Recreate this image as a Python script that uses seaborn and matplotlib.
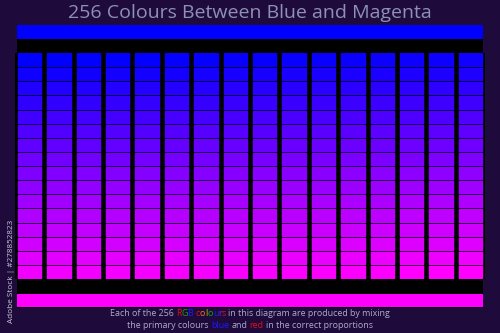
import numpy as np
import pandas as pd
import seaborn as sns
import matplotlib
matplotlib.use("Agg")
import matplotlib.pyplot as plt
from matplotlib.colors import LinearSegmentedColormap

# ---- data -------------------------------------------------------------
title = "256 Colours Between Blue and Magenta"
# red channel at the start of each row (blue channel is always 255)
row_red_base = [0, 16, 32, 48, 64, 80, 96, 112, 128, 144, 160, 176, 192, 208, 224, 240]
# red added in each of the 16 columns
col_red_step = [0, 1, 2, 3, 4, 5, 6, 7, 8, 9, 10, 11, 12, 13, 14, 15]
top_bar_red = [0]
bottom_bar_red = [255]
caption_line1 = [("Each of the 256 ", "#a9abc9"), ("R", "#e01010"), ("G", "#14a014"),
                 ("B", "#1a1aff"), (" c", "#e01010"), ("o", "#f07a10"), ("l", "#c8b400"),
                 ("o", "#14a014"), ("u", "#1a1aff"), ("r", "#8a20c8"), ("s", "#e01010"),
                 (" in this diagram are produced by mixing", "#a9abc9")]
caption_line2 = [("the primary colours ", "#a9abc9"), ("blue", "#1a1aff"),
                 (" and ", "#a9abc9"), ("red", "#e01010"),
                 (" in the correct proportions", "#a9abc9")]
side_text = "Adobe Stock | #278852823"

grid = pd.DataFrame(np.add.outer(row_red_base, col_red_step))

# ---- figure -----------------------------------------------------------
sns.set_theme(style="white")
plt.rcParams["font.family"] = ["Open Sans", "DejaVu Sans"]
BG = "#1f0b3b"
W, H = 500, 333
fig = plt.figure(figsize=(W / 100, H / 100), dpi=100, facecolor=BG)

def fx(x):
    return x / W

def fy(y):
    return 1 - y / H

# black panel (behind every axes)
ax_panel = fig.add_axes([fx(17), fy(308), fx(466), 283 / H], zorder=-5)
ax_panel.set_facecolor("black")
ax_panel.set_xticks([])
ax_panel.set_yticks([])
for sp in ax_panel.spines.values():
    sp.set_visible(False)

cmap = LinearSegmentedColormap.from_list("bm", [(0, 0, 1), (1, 0, 1)])

# top bar
ax_top = fig.add_axes([fx(17), fy(39), fx(466), 14 / H])
sns.heatmap(pd.DataFrame([top_bar_red]), cmap=cmap, vmin=0, vmax=255, cbar=False,
            xticklabels=False, yticklabels=False, ax=ax_top)

# main grid
left = 17 - 2.2
width = 483 + 2.2 - left
ax = fig.add_axes([fx(left), fy(279), fx(width), 226 / H])
sns.heatmap(grid, cmap=cmap, vmin=0, vmax=255, cbar=False, linewidths=0,
            xticklabels=False, yticklabels=False, ax=ax)
for r in range(1, len(row_red_base)):
    ax.axhline(r, color="black", lw=0.6, alpha=0.85, zorder=4)
for c in range(len(col_red_step) + 1):
    ax.axvline(c, color="black", lw=3.3, zorder=5)

# bottom bar
ax_bot = fig.add_axes([fx(17), fy(307), fx(466), 13 / H])
sns.heatmap(pd.DataFrame([bottom_bar_red]), cmap=cmap, vmin=0, vmax=255, cbar=False,
            xticklabels=False, yticklabels=False, ax=ax_bot)

# title
fig.text(0.5, fy(13), title, ha="center", va="center", fontsize=14.0, color="#8d91b6")

# side text
fig.text(fx(12), fy(271), side_text, rotation=90, ha="center", va="center",
         fontsize=5.9, color="#c9c9d9")

# captions with coloured words
renderer = fig.canvas.get_renderer()

def text_width(s, size):
    t = fig.text(0, 0, "|" + s + "|", fontsize=size)
    w = t.get_window_extent(renderer).width
    t.remove()
    t2 = fig.text(0, 0, "||", fontsize=size)
    w2 = t2.get_window_extent(renderer).width
    t2.remove()
    return w - w2

def rich_line(pieces, ycen, size):
    full = "".join(s for s, _ in pieces)
    total = text_width(full, size)
    x0 = (W - total) / 2
    acc = ""
    for s, col in pieces:
        lead = len(s) - len(s.lstrip(" "))
        x = x0 + text_width(acc + s[:lead], size)
        fig.text(fx(x), ycen, s.strip(" "), fontsize=size, color=col,
                 ha="left", va="center")
        acc += s

rich_line(caption_line1, fy(314), 6.4)
rich_line(caption_line2, fy(325), 6.4)

fig.savefig("out.png", dpi=100, facecolor=BG)
